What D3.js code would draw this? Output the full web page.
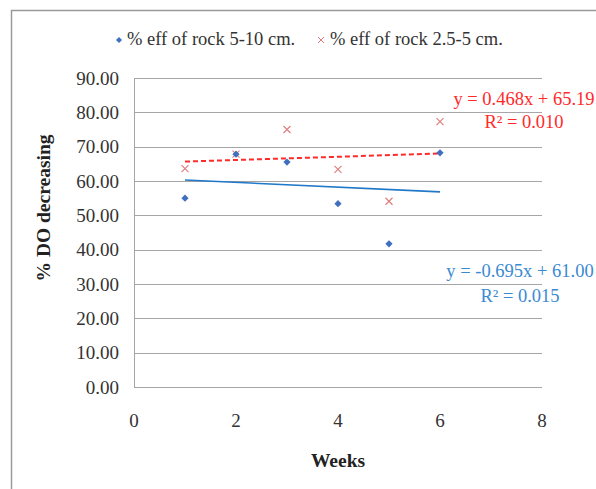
<!DOCTYPE html>
<html>
<head>
<meta charset="utf-8">
<script src="https://cdn.jsdelivr.net/npm/d3@7"></script>
<style>
    body { margin: 0; background: #fff; }
</style>
</head>
<body>
<div id="chart"></div>
<script>
// Data
const weeks = [1, 2, 3, 4, 5, 6];
const effLarge = [55.0, 67.8, 65.5, 53.4, 41.7, 68.2];   // % eff of rock 5-10 cm.
const effSmall = [63.6, 67.8, 75.0, 63.4, 54.1, 77.3];   // % eff of rock 2.5-5 cm.
const yTicks = [0, 10, 20, 30, 40, 50, 60, 70, 80, 90];
const xTicks = [0, 2, 4, 6, 8];
// Trendline coefficients as printed on the chart
const trendLarge = { slope: -0.695, intercept: 61.00, r2: "0.015" };
const trendSmall = { slope: 0.468, intercept: 65.19, r2: "0.010" };

const width = 596, height = 489;
const margin = { left: 134, right: 54, top: 78, bottom: 102 };
const serif = '"Liberation Serif", "Times New Roman", serif';

const svg = d3.select('#chart').append('svg')
    .attr('width', width)
    .attr('height', height)
    .attr('font-family', serif);

// outer chart frame
svg.append('rect')
    .attr('x', 11.5).attr('y', 10.5)
    .attr('width', 600).attr('height', 500)
    .attr('fill', '#fff')
    .attr('stroke', '#9a9a9a')
    .attr('stroke-width', 1.5);

const x = d3.scaleLinear().domain([0, 8]).range([margin.left, width - margin.right]);
const y = d3.scaleLinear().domain([0, 90]).range([height - margin.bottom, margin.top]);

// gridlines
svg.append('g')
    .selectAll('line')
    .data(yTicks)
    .join('line')
    .attr('x1', x(0)).attr('x2', x(8))
    .attr('y1', d => Math.round(y(d)) + 0.5)
    .attr('y2', d => Math.round(y(d)) + 0.5)
    .attr('stroke', '#a6a6a6')
    .attr('stroke-width', 1);

// y axis line
svg.append('line')
    .attr('x1', x(0) + 0.5).attr('x2', x(0) + 0.5)
    .attr('y1', y(90)).attr('y2', y(0))
    .attr('stroke', '#a6a6a6');

// y tick labels
svg.append('g')
    .selectAll('text')
    .data(yTicks)
    .join('text')
    .attr('x', 119)
    .attr('y', d => y(d) + 6.5)
    .attr('text-anchor', 'end')
    .attr('font-size', 19)
    .attr('fill', '#333')
    .text(d => d3.format('.2f')(d));

// x tick labels
svg.append('g')
    .selectAll('text')
    .data(xTicks)
    .join('text')
    .attr('x', d => x(d))
    .attr('y', 427)
    .attr('text-anchor', 'middle')
    .attr('font-size', 19)
    .attr('fill', '#333')
    .text(d => d);

// axis titles
svg.append('text')
    .attr('x', 338).attr('y', 467)
    .attr('text-anchor', 'middle')
    .attr('font-size', 19.5)
    .attr('font-weight', 'bold')
    .attr('fill', '#222')
    .text('Weeks');

svg.append('text')
    .attr('transform', 'translate(50,208) rotate(-90)')
    .attr('text-anchor', 'middle')
    .attr('font-size', 19.5)
    .attr('font-weight', 'bold')
    .attr('fill', '#222')
    .text('% DO decreasing');

// trendlines
const trendLine = (t) => [weeks[0], weeks[weeks.length - 1]].map(w => [x(w), y(t.slope * w + t.intercept)]);

svg.append('path')
    .attr('d', d3.line()(trendLine(trendLarge)))
    .attr('stroke', '#1f78c8')
    .attr('stroke-width', 1.6)
    .attr('fill', 'none');

svg.append('path')
    .attr('d', d3.line()(trendLine(trendSmall)))
    .attr('stroke', '#ff2a2a')
    .attr('stroke-width', 2)
    .attr('stroke-dasharray', '5,3')
    .attr('fill', 'none');

// markers: x crosses for small rock
const cross = 3.5;
svg.append('g')
    .selectAll('path')
    .data(weeks.map((w, i) => [w, effSmall[i]]))
    .join('path')
    .attr('d', d => {
        const cx = x(d[0]), cy = y(d[1]);
        return `M${cx - cross},${cy - cross}L${cx + cross},${cy + cross}M${cx - cross},${cy + cross}L${cx + cross},${cy - cross}`;
    })
    .attr('stroke', '#e07a7a')
    .attr('stroke-width', 1.1)
    .attr('fill', 'none');

// markers: diamonds for large rock
const dia = 3.6;
svg.append('g')
    .selectAll('path')
    .data(weeks.map((w, i) => [w, effLarge[i]]))
    .join('path')
    .attr('d', d => {
        const cx = x(d[0]), cy = y(d[1]);
        return `M${cx},${cy - dia}L${cx + dia},${cy}L${cx},${cy + dia}L${cx - dia},${cy}Z`;
    })
    .attr('fill', '#3f6fbf');

// trendline equations (centred, like Excel labels)
const eqSmall = svg.append('text')
    .attr('text-anchor', 'middle')
    .attr('font-size', 18.5)
    .attr('fill', '#ff2a2a');
eqSmall.append('tspan').attr('x', 524).attr('y', 105)
    .text(`y = ${trendSmall.slope}x + ${trendSmall.intercept.toFixed(2)}`);
eqSmall.append('tspan').attr('x', 524).attr('y', 128)
    .text(`R² = ${trendSmall.r2}`);

const eqLarge = svg.append('text')
    .attr('text-anchor', 'middle')
    .attr('font-size', 18.5)
    .attr('fill', '#3a8ad2');
eqLarge.append('tspan').attr('x', 520).attr('y', 277)
    .text(`y = ${trendLarge.slope}x + ${trendLarge.intercept.toFixed(2)}`);
eqLarge.append('tspan').attr('x', 520).attr('y', 302)
    .text(`R² = ${trendLarge.r2}`);

// legend
const legend = svg.append('g');
legend.append('path')
    .attr('d', 'M119,37L122,40L119,43L116,40Z')
    .attr('fill', '#3f6fbf');
legend.append('text')
    .attr('x', 127).attr('y', 45)
    .attr('font-size', 18.5)
    .attr('fill', '#333')
    .text('% eff of rock 5-10 cm.');
legend.append('path')
    .attr('d', 'M318,37L324,43M318,43L324,37')
    .attr('stroke', '#e07a7a')
    .attr('stroke-width', 1);
legend.append('text')
    .attr('x', 330).attr('y', 45)
    .attr('font-size', 18.5)
    .attr('fill', '#333')
    .text('% eff of rock 2.5-5 cm.');
</script>
</body>
</html>
